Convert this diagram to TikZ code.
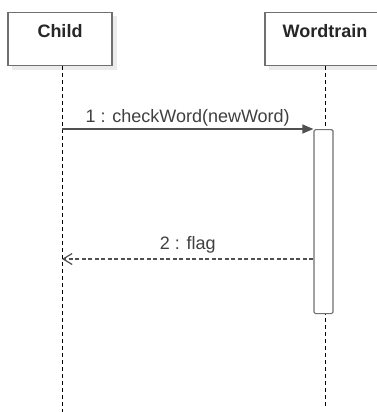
\documentclass[tikz,border=0pt]{standalone}
\usepackage{fontspec}
\setmainfont{Liberation Sans}
\usetikzlibrary{arrows.meta}
\definecolor{linegrey}{HTML}{505050}
\definecolor{boxgrey}{HTML}{707070}
\definecolor{shadowgrey}{HTML}{EBEBEB}
\tikzset{
  lifebox/.style={draw=boxgrey,line width=1.2pt,fill=white,minimum width=104pt,minimum height=53pt,
    font=\fontsize{18}{20}\selectfont\bfseries,text=black!85,text height=12pt,text depth=16pt,anchor=north},
  lifeline/.style={draw=black,line width=1pt,dash pattern=on 4pt off 3pt},
  callmsg/.style={draw=linegrey,line width=1.2pt,-{Triangle[length=11pt,width=9pt]}},
  retmsg/.style={draw=linegrey,line width=1.2pt,dash pattern=on 4pt off 2.5pt,-{Straight Barb[length=9pt,width=11pt]}},
  msglabel/.style={font=\fontsize{18}{20}\selectfont,text=black!75}
}
\begin{document}
\begin{tikzpicture}[x=1pt,y=-1pt]
\useasboundingbox (0,0) rectangle (377,412);
\clip (0,0) rectangle (377,412);
\fill[white] (0,0) rectangle (377,412);
% shadows
\fill[shadowgrey] (12,16) rectangle (117,70);
\fill[shadowgrey] (269,16) rectangle (390,70);
% lifeline heads
\node[lifebox] (child) at (60,12) {Child};
\node[lifebox,minimum width=120pt] (train) at (325,12) {Wordtrain};
% lifelines
\coordinate (childend) at (62,412);
\coordinate (trainend) at (325,408);
\draw[lifeline] (child.south -| childend) -- (childend);
\draw[lifeline] (train.south -| trainend) -- (trainend);
% activation
\node[draw=boxgrey,line width=1.2pt,fill=white,rounded corners=1.5pt,minimum width=19pt,minimum height=184pt,anchor=north,inner sep=0pt] (act) at (323.5,129) {};
% messages
\coordinate (callstart) at (62,129);
\draw[callmsg] (callstart) -- (act.north west) node[msglabel,midway,above=-1pt] {1 : checkWord(newWord)};
\coordinate (retend) at (62,259);
\draw[retmsg] (act.west |- retend) -- (retend) node[msglabel,midway,above=2pt] {2 : flag};
\end{tikzpicture}
\end{document}
